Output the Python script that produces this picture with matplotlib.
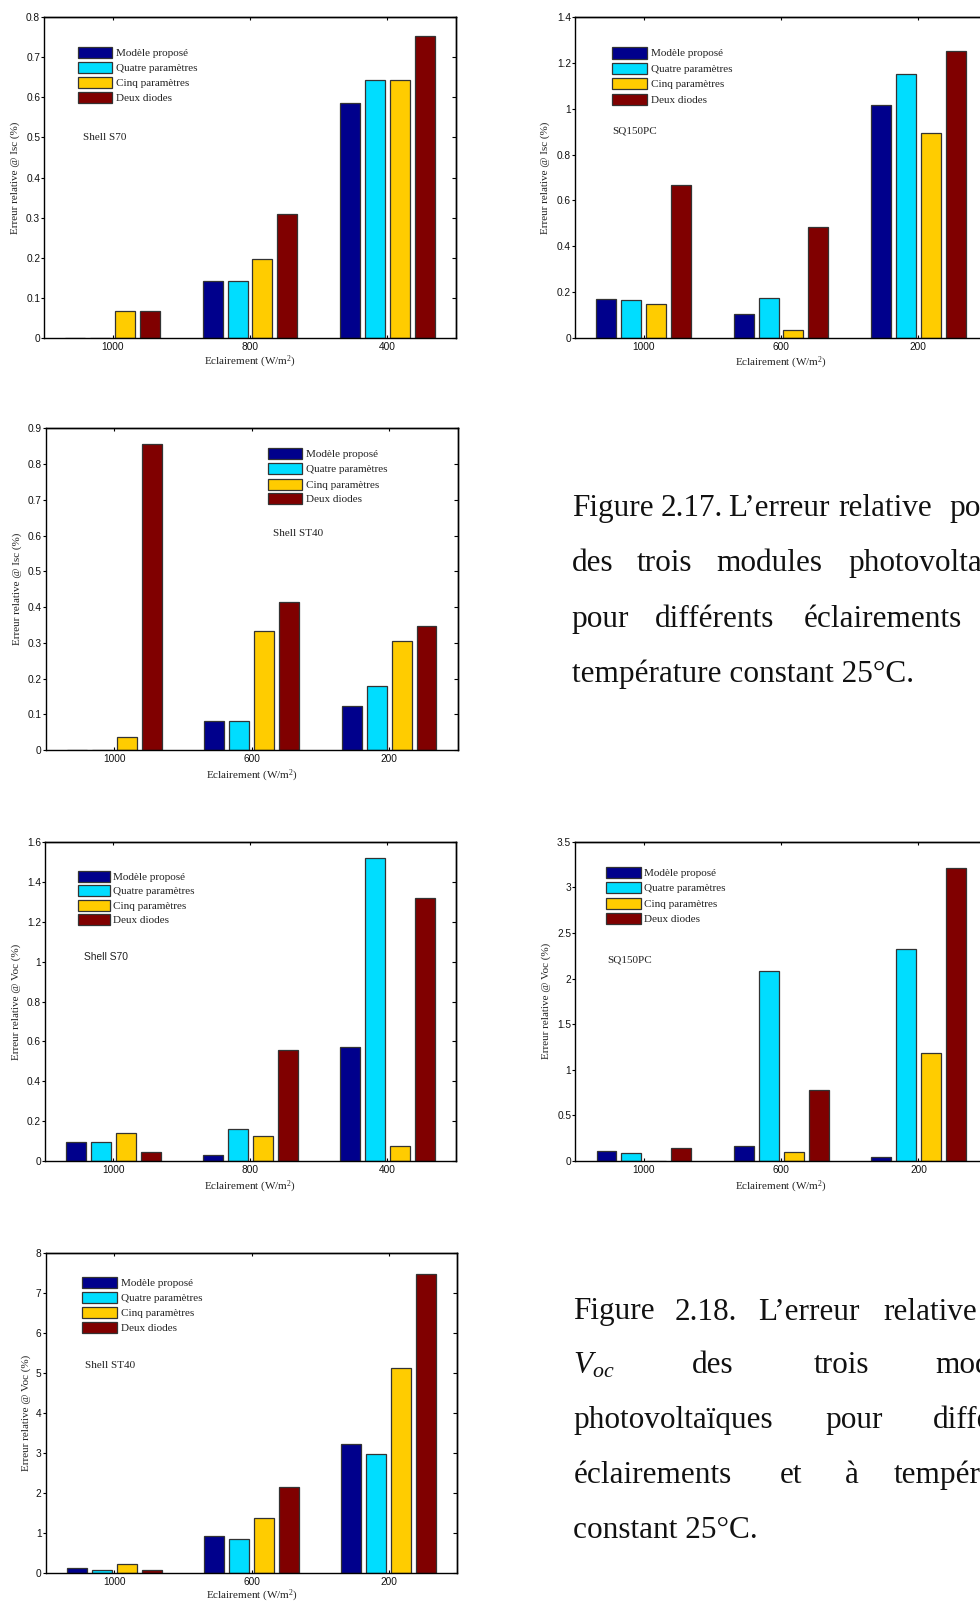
import matplotlib
matplotlib.use("Agg")
import matplotlib.pyplot as plt
from matplotlib.patches import Rectangle
from matplotlib.ticker import FormatStrFormatter
import numpy as np

plt.rcParams["mathtext.fontset"] = "custom"
plt.rcParams["mathtext.rm"] = "Liberation Serif"
plt.rcParams["mathtext.it"] = "Liberation Serif:italic"

# ---------------------------------------------------------------- data
models = ["Modèle proposé", "Quatre paramètres", "Cinq paramètres", "Deux diodes"]
colors = ["#00008C", "#00DDFF", "#FFCC00", "#800000"]

irr_s70 = ["1000", "800", "400"]
irr_other = ["1000", "600", "200"]

# relative error on Isc (%), one list per model, over the three irradiances
isc_s70_proposed = [0.0, 0.142, 0.587]
isc_s70_four = [0.0, 0.142, 0.643]
isc_s70_five = [0.067, 0.197, 0.643]
isc_s70_twodiode = [0.067, 0.309, 0.754]

isc_sq150_proposed = [0.167, 0.105, 1.018]
isc_sq150_four = [0.166, 0.173, 1.151]
isc_sq150_five = [0.146, 0.035, 0.896]
isc_sq150_twodiode = [0.666, 0.485, 1.254]

isc_st40_proposed = [0.0, 0.082, 0.123]
isc_st40_four = [0.0, 0.082, 0.178]
isc_st40_five = [0.037, 0.332, 0.306]
isc_st40_twodiode = [0.857, 0.415, 0.346]

# relative error on Voc (%)
voc_s70_proposed = [0.094, 0.030, 0.574]
voc_s70_four = [0.094, 0.162, 1.521]
voc_s70_five = [0.141, 0.126, 0.075]
voc_s70_twodiode = [0.047, 0.559, 1.322]

voc_sq150_proposed = [0.113, 0.168, 0.047]
voc_sq150_four = [0.091, 2.085, 2.326]
voc_sq150_five = [0.0, 0.099, 1.187]
voc_sq150_twodiode = [0.139, 0.782, 3.207]

voc_st40_proposed = [0.125, 0.933, 3.225]
voc_st40_four = [0.083, 0.850, 2.975]
voc_st40_five = [0.225, 1.390, 5.140]
voc_st40_twodiode = [0.083, 2.150, 7.475]

# ---------------------------------------------------------------- layout
W, H = 980, 1602
fig = plt.figure(figsize=(W / 100, H / 100), dpi=100)
fig.patch.set_facecolor("white")


def fx(px):
    return px / W


def fy(py):
    return 1 - py / H


SERIF = "Liberation Serif"
SANS = "Liberation Sans"
TXT = "#222222"

panels = [
    dict(box=(44.3, 17.3, 455.7, 337.7), ticks=irr_s70,
         series=[isc_s70_proposed, isc_s70_four, isc_s70_five, isc_s70_twodiode],
         ylim=(0, 0.8, 0.1), ylabel="Erreur relative @ Isc (%)", ylab_x=15, xlab_y=362,
         leg=(78, 112, 116, [52.2, 67.2, 82.2, 97.5]),
         name="Shell S70", name_pos=(82.7, 137.7), name_font=SERIF),
    dict(box=(575.0, 17.3, 987.0, 337.7), ticks=irr_other,
         series=[isc_sq150_proposed, isc_sq150_four, isc_sq150_five, isc_sq150_twodiode],
         ylim=(0, 1.4, 0.2), ylabel="Erreur relative @ Isc (%)", ylab_x=545, xlab_y=363,
         leg=(612.3, 646.7, 650.7, [53.0, 68.2, 83.8, 99.3]),
         name="SQ150PC", name_pos=(612.7, 131), name_font=SERIF),
    dict(box=(45.7, 428.3, 457.7, 750.0), ticks=irr_other,
         series=[isc_st40_proposed, isc_st40_four, isc_st40_five, isc_st40_twodiode],
         ylim=(0, 0.9, 0.1), ylabel="Erreur relative @ Isc (%)", ylab_x=16.7, xlab_y=775.7,
         leg=(267.7, 301.7, 306, [453.7, 468.3, 484.0, 498.8]),
         name="Shell ST40", name_pos=(273.3, 534), name_font=SERIF),
    dict(box=(45.0, 842.3, 455.7, 1161.0), ticks=irr_s70,
         series=[voc_s70_proposed, voc_s70_four, voc_s70_five, voc_s70_twodiode],
         ylim=(0, 1.6, 0.2), ylabel="Erreur relative @ Voc (%)", ylab_x=15.7, xlab_y=1186.7,
         leg=(78.3, 109.7, 113, [876.2, 890.8, 905.3, 919.8]),
         name="Shell S70", name_pos=(84, 957.3), name_font=SANS),
    dict(box=(575.3, 841.7, 987.0, 1161.0), ticks=irr_other,
         series=[voc_sq150_proposed, voc_sq150_four, voc_sq150_five, voc_sq150_twodiode],
         ylim=(0, 3.5, 0.5), ylabel="Erreur relative @ Voc (%)", ylab_x=546, xlab_y=1186.7,
         leg=(606.3, 640.7, 644.3, [872.7, 887.5, 903.0, 918.2]),
         name="SQ150PC", name_pos=(607.7, 960), name_font=SERIF),
    dict(box=(45.7, 1253.3, 457.3, 1573.3), ticks=irr_other,
         series=[voc_st40_proposed, voc_st40_four, voc_st40_five, voc_st40_twodiode],
         ylim=(0, 8, 1), ylabel="Erreur relative @ Voc (%)", ylab_x=26, xlab_y=1596,
         leg=(82.3, 116.7, 120.7, [1282.2, 1297.3, 1312.3, 1327.5]),
         name="Shell ST40", name_pos=(84.7, 1365.3), name_font=SERIF),
]

n_models = len(models)
slot = 0.8 / (n_models + 0.4)
offsets = (np.arange(n_models) - (n_models - 1) / 2) * slot
bar_w = 0.8 * slot

for p in panels:
    x0, y0, x1, y1 = p["box"]
    ax = fig.add_axes([fx(x0), fy(y1), (x1 - x0) / W, (y1 - y0) / H])
    pos = np.arange(1, len(p["ticks"]) + 1)
    for k, vals in enumerate(p["series"]):
        ax.bar(pos + offsets[k], vals, width=bar_w, color=colors[k],
               edgecolor="#333333", linewidth=0.9, zorder=2)

    ymin, ymax, ystep = p["ylim"]
    yt = np.arange(ymin, ymax + ystep / 2, ystep)
    ax.set_ylim(ymin, ymax)
    ax.set_xlim(0.5, len(pos) + 0.5)
    ax.set_yticks(yt)
    ax.yaxis.set_major_formatter(FormatStrFormatter("%g"))
    ax.set_xticks(pos)
    ax.set_xticklabels(p["ticks"])

    for lab in ax.get_xticklabels() + ax.get_yticklabels():
        lab.set_fontfamily(SANS)
        lab.set_fontsize(7.3)
        lab.set_color("#111111")
    ax.tick_params(axis="x", direction="in", length=2.5, width=0.8, pad=3)
    ax.tick_params(axis="y", direction="out", length=2, width=0.8, pad=1)

    # inward ticks on the top and right frame edges
    top = ax.secondary_xaxis("top")
    top.set_xticks(pos)
    top.tick_params(direction="in", length=2.5, width=0.8, labeltop=False)
    right = ax.secondary_yaxis("right")
    right.set_yticks(yt)
    right.tick_params(direction="in", length=3, width=0.8, labelright=False)
    for a in (ax, top, right):
        for s in a.spines.values():
            s.set_linewidth(1.0)
            s.set_color("black")

    # axis titles
    fig.text(fx(p["ylab_x"]), fy((y0 + y1) / 2), p["ylabel"], rotation=90,
             ha="center", va="center", fontsize=8, family=SERIF, color=TXT)
    fig.text(fx((x0 + x1) / 2), fy(p["xlab_y"]), "Eclairement (W/m$^2$)",
             ha="center", va="center", fontsize=8, family=SERIF, color=TXT)

    # legend block
    lx0, lx1, tx, rows = p["leg"]
    for k, yc in enumerate(rows):
        ax.add_patch(Rectangle((fx(lx0), fy(yc + 5.5)), (lx1 - lx0) / W, 11 / H,
                               transform=fig.transFigure, facecolor=colors[k],
                               edgecolor="#333333", linewidth=0.9, clip_on=False,
                               zorder=5))
        ax.text(fx(tx), fy(yc), models[k], transform=fig.transFigure,
                ha="left", va="center_baseline", fontsize=8, family=SERIF,
                color=TXT, zorder=5)

    # module name
    nx, ny = p["name_pos"]
    ax.text(fx(nx), fy(ny), p["name"], transform=fig.transFigure,
            ha="left", va="center", fontsize=8 if p["name_font"] == SERIF else 7.4,
            family=p["name_font"], color=TXT, zorder=5)

# ---------------------------------------------------------------- captions
CAP = dict(fontsize=22.5, family=SERIF, color="#111111", ha="left", va="baseline")

caption_217 = [
    (515.7, [(571.7, "Figure"), (660.5, "2.17."), (728.5, "L’erreur"),
             (838.0, "relative"), (949.5, "pour")]),
    (571.3, [(571.7, "des"), (636.7, "trois"), (716.7, "modules"),
             (848.3, "photovoltaïques")]),
    (626.7, [(571.7, "pour"), (655.0, "différents"), (803.3, "éclairements")]),
    (682.0, [(571.7, "température constant 25°C.")]),
]

caption_218 = [
    (1319.5, [(573.3, "Figure"), (675.0, "2.18."), (758.3, "L’erreur"),
              (883.3, "relative")]),
    (1373.3, [(573.3, r"$V_{oc}$"), (691.7, "des"), (813.3, "trois"),
              (935.0, "modules")]),
    (1428.3, [(573.3, "photovoltaïques"), (825.0, "pour"), (933.3, "différents")]),
    (1483.3, [(573.3, "éclairements"), (780.0, "et"), (845.0, "à"),
              (893.3, "température")]),
    (1538.3, [(573.3, "constant 25°C.")]),
]

for block in (caption_217, caption_218):
    for base, words in block:
        for x, w in words:
            fig.text(fx(x), fy(base), w, **CAP)

fig.savefig("out.png", dpi=100, facecolor="white")
